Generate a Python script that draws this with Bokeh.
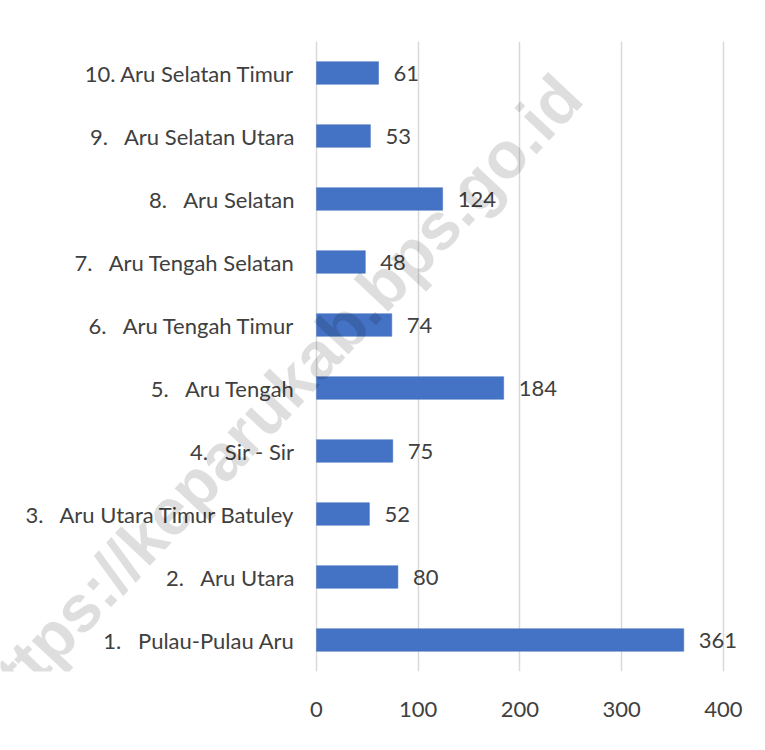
from bokeh.plotting import figure
from bokeh.models import ColumnDataSource, Range1d, FixedTicker, LabelSet, Label
from bokeh.core.properties import value
from bokeh.embed import file_html
from bokeh.resources import INLINE

NB = "\u00a0"
categories = [
    "1." + NB * 3 + "Pulau-Pulau Aru",
    "2." + NB * 3 + "Aru Utara",
    "3." + NB * 3 + "Aru Utara Timur Batuley",
    "4." + NB * 3 + "Sir - Sir",
    "5." + NB * 3 + "Aru Tengah",
    "6." + NB * 3 + "Aru Tengah Timur",
    "7." + NB * 3 + "Aru Tengah Selatan",
    "8." + NB * 3 + "Aru Selatan",
    "9." + NB * 3 + "Aru Selatan Utara",
    "10. Aru Selatan Timur",
]
values = [361, 80, 52, 75, 184, 74, 48, 124, 53, 61]
x_ticks = [0, 100, 200, 300, 400]
watermark = "https://keparukab.bps.go.id"

FONT = "Lato"
TXT = "#404040"
FS = "22px"

src = ColumnDataSource(dict(cat=categories, val=values,
                            lbl=[str(v) for v in values],
                            zero=[0] * len(values)))

p = figure(
    width=749, height=734,
    y_range=categories,
    x_range=Range1d(-310.6, 425.6),
    output_backend="svg", toolbar_location=None,
    min_border_left=0, min_border_right=0,
    min_border_top=41, min_border_bottom=63,
)
p.outline_line_color = None
p.yaxis.visible = False

p.hbar(y="cat", right="val", left=0, height=0.36, source=src,
       fill_color="#4472C4", line_color="#4472C4", line_width=0.5)

# category labels (left of the value axis origin)
cat_labels = LabelSet(x="zero", y="cat", text="cat", source=src,
                      x_offset=-22, y_offset=0, text_align="right", text_baseline="middle",
                      text_font=value(FONT), text_font_size=value(FS), text_color=TXT)
p.add_layout(cat_labels)

# value labels
val_labels = LabelSet(x="val", y="cat", text="lbl", source=src,
                      x_offset=15, y_offset=0, text_align="left", text_baseline="middle",
                      text_font=value(FONT), text_font_size=value(FS), text_color=TXT)
p.add_layout(val_labels)

p.xaxis.ticker = FixedTicker(ticks=x_ticks)
p.xgrid.ticker = FixedTicker(ticks=x_ticks)
p.xgrid.grid_line_color = "#d9d9d9"
p.xgrid.grid_line_width = 1.5
p.ygrid.grid_line_color = None

ax = p.xaxis
ax.axis_line_color = None
ax.major_tick_line_color = None
ax.minor_tick_line_color = None
ax.major_tick_out = 0
ax.major_tick_in = 0
ax.major_label_text_font = FONT
ax.major_label_text_font_size = FS
ax.major_label_text_color = TXT
ax.major_label_standoff = 30

wm = Label(x=274, y=272, x_units="screen", y_units="screen",
           text=watermark, angle=46.8, angle_units="deg",
           text_align="center", text_baseline="middle",
           text_font="Liberation Sans", text_font_style="bold",
           text_font_size="66px", text_color="black", text_alpha=0.13)
p.add_layout(wm)

open("out.html", "w").write(file_html(p, INLINE))
